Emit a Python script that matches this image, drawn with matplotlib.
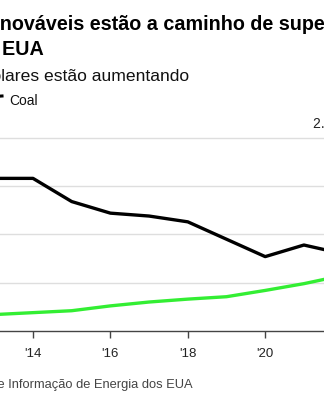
import matplotlib
matplotlib.use("Agg")
import matplotlib.pyplot as plt
from matplotlib.lines import Line2D

plt.rcParams['font.family'] = ['Liberation Sans', 'DejaVu Sans']

# dados (trilhões de kWh), EIA
years = [2013, 2014, 2015, 2016, 2017, 2018, 2019, 2020, 2021, 2022]
coal = [1.58, 1.58, 1.34, 1.22, 1.19, 1.13, 0.95, 0.77, 0.89, 0.80]
wind_solar = [0.17, 0.19, 0.21, 0.26, 0.30, 0.33, 0.355, 0.42, 0.49, 0.575]
tick_years = [2014, 2016, 2018, 2020]
tick_labels = ["'14", "'16", "'18", "'20"]
grid_vals = [0.5, 1.0, 1.5, 2.0]

W, H = 324, 400
fig = plt.figure(figsize=(W / 100, H / 100), dpi=100)
renderer = fig.canvas.get_renderer()

# eixo maior que a figura (o recorte corta as bordas)
x0 = 33 - 38.7          # px de 2013
x1 = 33 + 9 * 38.7      # px de 2023
ybot = 331
ytop = 331 - 2.0 * 96.6
ax = fig.add_axes([x0 / W, (H - ybot) / H, (x1 - x0) / W, (ybot - ytop) / H])
ax.set_xlim(2013, 2023)
ax.set_ylim(0, 2.0)
ax.patch.set_visible(False)
for s in ax.spines.values():
    s.set_visible(False)

for v in grid_vals:
    ax.axhline(v, color='#dedede', lw=1.0, zorder=1, clip_on=False)
ax.axhline(0, color='#444444', lw=1.0, zorder=2, clip_on=False)

ax.plot(years, wind_solar, color='#33ee33', lw=2.4, zorder=3, solid_capstyle='butt')
ax.plot(years, coal, color='black', lw=2.4, zorder=4, solid_capstyle='butt')

ax.set_yticks([])
ax.set_xticks(tick_years)
ax.set_xticklabels(tick_labels, fontsize=9.5, color='#222222')
ax.tick_params(axis='x', length=5, width=1, color='#444444', pad=7)


def px_text(x, y, s, cut, **kw):
    # coloca o texto de modo que s[cut:] comece no px x
    if cut > 0:
        ch = s[cut]
        t = fig.text(0, 0, s[:cut] + ch, **kw)
        w1 = t.get_window_extent(renderer).width
        t.remove()
        t = fig.text(0, 0, ch, **kw)
        w2 = t.get_window_extent(renderer).width
        t.remove()
        x = x - (w1 - w2)
    return fig.text(x / W, 1 - y / H, s, va='baseline', ha='left', **kw)


l1 = "Energias renováveis estão a caminho de superar o"
l2 = "carvão nos EUA"
px_text(0, 30, l1, l1.index("nováveis"), fontsize=14.2, fontweight='bold', color='black')
px_text(2, 55, l2, l2.index("EUA"), fontsize=14.2, fontweight='bold', color='black')
sub = "As fontes eólicas e solares estão aumentando"
px_text(1, 81, sub, sub.index("lares"), fontsize=12.6, color='#111111')
src = "Fonte: Administração de Informação de Energia dos EUA"
px_text(-3, 388, src, src.index("e Informação"), fontsize=9.3, color='#444444')

# legenda
fig.add_artist(Line2D([-14 / W, 2 / W], [1 - 97 / H, 1 - 96 / H],
                      color='black', lw=2.2, transform=fig.transFigure))
px_text(9, 105, "Coal", 0, fontsize=10, color='#111111')

# rótulo do eixo y (à direita)
px_text(313, 128, "2.0 trilhões de kWh", 0, fontsize=10, color='#222222')

fig.savefig("out.png", dpi=100)
